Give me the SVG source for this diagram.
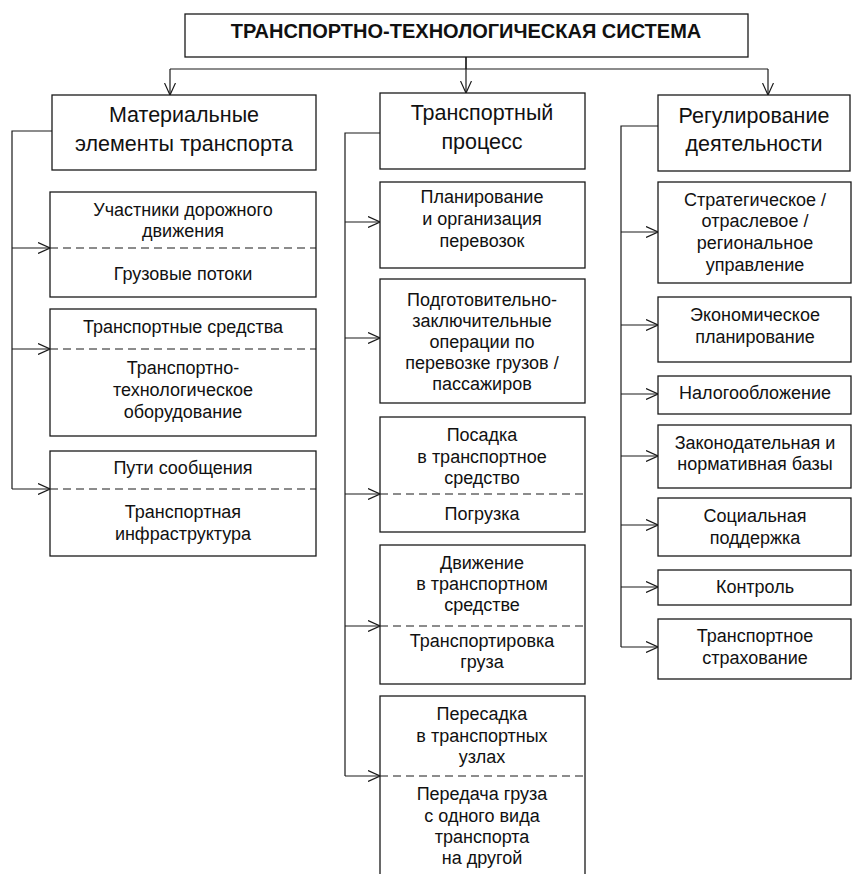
<svg xmlns="http://www.w3.org/2000/svg" width="853" height="874" viewBox="0 0 853 874">
<style>
.box{fill:#fff;stroke:#1a1a1a;stroke-width:1.3}
.dash{stroke:#1a1a1a;stroke-width:1.2;stroke-dasharray:8 5;fill:none}
.ln{stroke:#1a1a1a;stroke-width:1.2;fill:none}
text{font-family:"Liberation Sans",Arial,sans-serif;fill:#111;text-anchor:middle}
.t{font-size:18px}
.h{font-size:21.5px}
.title{font-size:20px;font-weight:bold}
</style>
<defs>
<marker id="ar" viewBox="0 0 12 12" refX="12" refY="6" markerWidth="12" markerHeight="12" markerUnits="userSpaceOnUse" orient="auto">
<path d="M0,0.5 L12,6 L0,11.5" fill="none" stroke="#1a1a1a" stroke-width="1.2"/>
</marker>
</defs>
<rect width="853" height="874" fill="#fff"/>
<g id="connectors">
<path class="ln" d="M466,57 V69 M170,69 H768"/>
<path class="ln" d="M170,69 V95" marker-end="url(#ar)"/>
<path class="ln" d="M466,57 V93" marker-end="url(#ar)"/>
<path class="ln" d="M768,69 V95" marker-end="url(#ar)"/>
<path class="ln" d="M52,131 H12 V489"/>
<path class="ln" d="M12,248 H50" marker-end="url(#ar)"/>
<path class="ln" d="M12,349 H50" marker-end="url(#ar)"/>
<path class="ln" d="M12,489 H50" marker-end="url(#ar)"/>
<path class="ln" d="M380,133 H345 V776"/>
<path class="ln" d="M345,222 H380" marker-end="url(#ar)"/>
<path class="ln" d="M345,338 H380" marker-end="url(#ar)"/>
<path class="ln" d="M345,494 H380" marker-end="url(#ar)"/>
<path class="ln" d="M345,626 H380" marker-end="url(#ar)"/>
<path class="ln" d="M345,776 H380" marker-end="url(#ar)"/>
<path class="ln" d="M658,126 H621 V647"/>
<path class="ln" d="M621,232 H658" marker-end="url(#ar)"/>
<path class="ln" d="M621,325 H658" marker-end="url(#ar)"/>
<path class="ln" d="M621,394 H658" marker-end="url(#ar)"/>
<path class="ln" d="M621,456 H658" marker-end="url(#ar)"/>
<path class="ln" d="M621,525 H658" marker-end="url(#ar)"/>
<path class="ln" d="M621,587 H658" marker-end="url(#ar)"/>
<path class="ln" d="M621,647 H658" marker-end="url(#ar)"/>
</g>
<g id="title">
<rect class="box" x="185" y="14" width="563" height="43"/>
<text class="title" x="466" y="38">ТРАНСПОРТНО-ТЕХНОЛОГИЧЕСКАЯ СИСТЕМА</text>
</g>
<g id="h-material">
<rect class="box" x="52" y="95" width="264" height="75"/>
<text class="h" x="184" y="122">Материальные</text>
<text class="h" x="184" y="151">элементы транспорта</text>
</g>
<g id="h-process">
<rect class="box" x="380" y="93" width="205" height="76"/>
<text class="h" x="482" y="120">Транспортный</text>
<text class="h" x="482" y="149">процесс</text>
</g>
<g id="h-regul">
<rect class="box" x="658" y="95" width="192" height="76"/>
<text class="h" x="754" y="123">Регулирование</text>
<text class="h" x="754" y="151">деятельности</text>
</g>
<g id="m1">
<rect class="box" x="50" y="192" width="266" height="105"/>
<line class="dash" x1="50" y1="248" x2="316" y2="248"/>
<text class="t" x="183" y="216">Участники дорожного</text>
<text class="t" x="183" y="237">движения</text>
<text class="t" x="183" y="280">Грузовые потоки</text>
</g>
<g id="m2">
<rect class="box" x="50" y="309" width="266" height="127"/>
<line class="dash" x1="50" y1="349" x2="316" y2="349"/>
<text class="t" x="183" y="333">Транспортные средства</text>
<text class="t" x="183" y="374">Транспортно-</text>
<text class="t" x="183" y="396">технологическое</text>
<text class="t" x="183" y="418">оборудование</text>
</g>
<g id="m3">
<rect class="box" x="50" y="451" width="266" height="105"/>
<line class="dash" x1="50" y1="489" x2="316" y2="489"/>
<text class="t" x="183" y="474">Пути сообщения</text>
<text class="t" x="183" y="518">Транспортная</text>
<text class="t" x="183" y="540">инфраструктура</text>
</g>
<g id="p1">
<rect class="box" x="380" y="182" width="205" height="86"/>
<text class="t" x="482" y="203">Планирование</text>
<text class="t" x="482" y="225">и организация</text>
<text class="t" x="482" y="247">перевозок</text>
</g>
<g id="p2">
<rect class="box" x="380" y="279" width="205" height="124"/>
<text class="t" x="482" y="306">Подготовительно-</text>
<text class="t" x="482" y="327">заключительные</text>
<text class="t" x="482" y="348">операции по</text>
<text class="t" x="482" y="369">перевозке грузов /</text>
<text class="t" x="482" y="390">пассажиров</text>
</g>
<g id="p3">
<rect class="box" x="380" y="417" width="205" height="115"/>
<line class="dash" x1="380" y1="494" x2="585" y2="494"/>
<text class="t" x="482" y="441">Посадка</text>
<text class="t" x="482" y="463">в транспортное</text>
<text class="t" x="482" y="484">средство</text>
<text class="t" x="482" y="520">Погрузка</text>
</g>
<g id="p4">
<rect class="box" x="380" y="545" width="205" height="139"/>
<line class="dash" x1="380" y1="626" x2="585" y2="626"/>
<text class="t" x="482" y="569">Движение</text>
<text class="t" x="482" y="590">в транспортном</text>
<text class="t" x="482" y="611">средстве</text>
<text class="t" x="482" y="647">Транспортировка</text>
<text class="t" x="482" y="668">груза</text>
</g>
<g id="p5">
<rect class="box" x="380" y="696" width="205" height="190"/>
<line class="dash" x1="380" y1="776" x2="585" y2="776"/>
<text class="t" x="482" y="720">Пересадка</text>
<text class="t" x="482" y="742">в транспортных</text>
<text class="t" x="482" y="763">узлах</text>
<text class="t" x="482" y="800">Передача груза</text>
<text class="t" x="482" y="822">с одного вида</text>
<text class="t" x="482" y="843">транспорта</text>
<text class="t" x="482" y="864">на другой</text>
</g>
<g id="r1">
<rect class="box" x="658" y="182" width="193" height="101"/>
<text class="t" x="755" y="206">Стратегическое /</text>
<text class="t" x="755" y="227">отраслевое /</text>
<text class="t" x="755" y="249">региональное</text>
<text class="t" x="755" y="271">управление</text>
</g>
<g id="r2">
<rect class="box" x="658" y="297" width="193" height="65"/>
<text class="t" x="755" y="321">Экономическое</text>
<text class="t" x="755" y="343">планирование</text>
</g>
<g id="r3">
<rect class="box" x="658" y="376" width="193" height="38"/>
<text class="t" x="755" y="399">Налогообложение</text>
</g>
<g id="r4">
<rect class="box" x="658" y="425" width="193" height="63"/>
<text class="t" x="755" y="449">Законодательная и</text>
<text class="t" x="755" y="470">нормативная базы</text>
</g>
<g id="r5">
<rect class="box" x="658" y="498" width="193" height="58"/>
<text class="t" x="755" y="522">Социальная</text>
<text class="t" x="755" y="544">поддержка</text>
</g>
<g id="r6">
<rect class="box" x="658" y="570" width="193" height="35"/>
<text class="t" x="755" y="593">Контроль</text>
</g>
<g id="r7">
<rect class="box" x="658" y="619" width="193" height="60"/>
<text class="t" x="755" y="642">Транспортное</text>
<text class="t" x="755" y="664">страхование</text>
</g>
</svg>
